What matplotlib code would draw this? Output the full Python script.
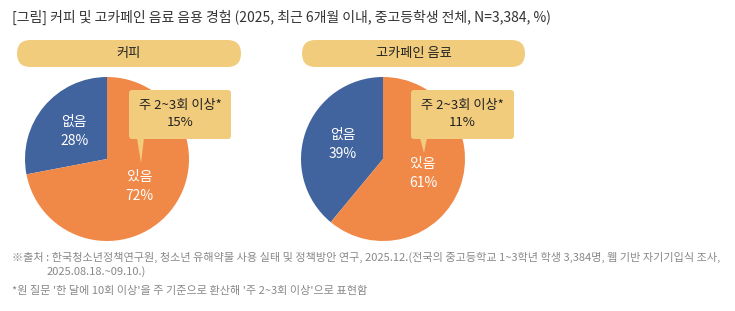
import matplotlib
matplotlib.use('Agg')
import matplotlib.pyplot as plt
from matplotlib.patches import FancyBboxPatch, Polygon

plt.rcParams['font.family'] = ['Noto Sans CJK KR', 'DejaVu Sans']

W, H = 735, 311

title = '[그림] 커피 및 고카페인 음료 음용 경험 (2025, 최근 6개월 이내, 중고등학생 전체, N=3,384, %)'
groups = ['커피', '고카페인 음료']
categories = ['없음', '있음']
shares = [[28, 72], [39, 61]]
weekly_label = '주 2~3회 이상*'
weekly = [15, 11]
note_source = ('※출처 : 한국청소년정책연구원, 청소년 유해약물 사용 실태 및 정책방안 연구, 2025.12.'
               '(전국의 중고등학교 1~3학년 학생 3,384명, 웹 기반 자기기입식 조사,')
note_source2 = '2025.08.18.~09.10.)'
note_star = "*원 질문 '한 달에 10회 이상'을 주 기준으로 환산해 '주 2~3회 이상'으로 표현함"

BLUE = '#41639E'
ORANGE = '#F08948'
SAND = '#F2CC7D'

# layout in pixel coords (y from top)
centers = [(107, 159), (383, 159)]
R = 82
pills = [(17, 241), (302, 525)]
boxes = [(129, 231, 137, 144, 141, 163), (411, 514, 420, 427, 424, 153)]

fig = plt.figure(figsize=(W / 100, H / 100), dpi=100)
ax = fig.add_axes([0, 0, 1, 1])

for i, grp in enumerate(groups):
    cx, cy = centers[i]
    ax.pie(shares[i], colors=[BLUE, ORANGE], startangle=90, counterclock=True,
           center=(cx, H - cy), radius=R,
           labels=[f'{c}\n{v}%' for c, v in zip(categories, shares[i])],
           labeldistance=0.52,
           textprops=dict(color='white', fontsize=10, fontweight='medium',
                          ha='center', va='center', linespacing=1.45))

    # header pill
    x0, x1 = pills[i]
    ax.add_patch(FancyBboxPatch((x0, H - 67), x1 - x0, 27,
                                boxstyle='round,pad=0,rounding_size=13.5',
                                fc=SAND, ec='none', zorder=3))
    ax.text((x0 + x1) / 2, H - 53.5, grp, fontsize=9.5, color='#222222',
            ha='center', va='center', fontweight='medium', zorder=4)

    # callout
    bl, br, pl, pr, tx, ty = boxes[i]
    ax.add_patch(FancyBboxPatch((bl, H - 139), br - bl, 49,
                                boxstyle='round,pad=0,rounding_size=3',
                                fc=SAND, ec='none', zorder=5))
    ax.add_patch(Polygon([(pl, H - 138), (pr, H - 138), (tx, H - ty)],
                         closed=True, fc=SAND, ec='none', zorder=5))
    ax.text((bl + br) / 2, H - 114.5, f'{weekly_label}\n{weekly[i]}%',
            fontsize=9.5, color='#222222', ha='center', va='center',
            linespacing=1.4, zorder=6)

ax.text(12, H - 17, title, fontsize=10, color='#333333', ha='left', va='center')
ax.text(12, H - 257, note_source, fontsize=8, color='#888888', ha='left', va='center')
ax.text(47, H - 272, note_source2, fontsize=8, color='#888888', ha='left', va='center')
ax.text(12, H - 291, note_star, fontsize=8, color='#888888', ha='left', va='center')

ax.set_xlim(0, W)
ax.set_ylim(0, H)
ax.set_aspect('equal')
ax.axis('off')

fig.savefig('out.png', dpi=100)
